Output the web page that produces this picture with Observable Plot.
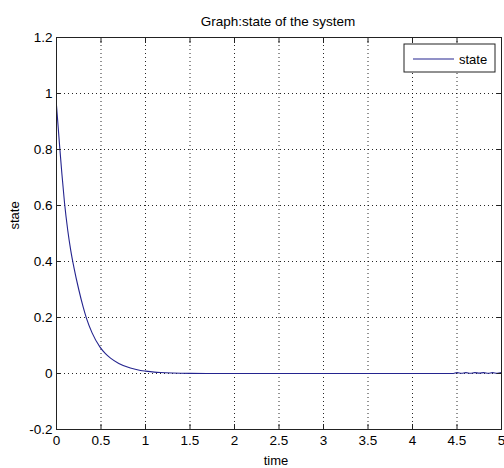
<!DOCTYPE html>
<html>
<head>
<meta charset="utf-8">
<script src="https://cdn.jsdelivr.net/npm/d3@7"></script>
<script src="https://cdn.jsdelivr.net/npm/@observablehq/plot@0.6"></script>
<style>
  html, body { margin: 0; padding: 0; background: #fff; }
</style>
</head>
<body>
<div id="chart"></div>
<script>
// ---- data ----
const time  = [0, 0.02, 0.037, 0.06, 0.09, 0.127, 0.16, 0.195, 0.25, 0.3, 0.337, 0.4, 0.487, 0.55, 0.607, 0.7, 0.83, 0.944, 1.0, 1.1, 1.17, 1.3, 1.5, 2, 3, 4, 4.46, 4.5, 4.55, 4.6, 4.65, 4.7, 4.75, 4.8, 4.85, 4.9, 4.95, 5];
const state = [0.957, 0.875, 0.805, 0.715, 0.61, 0.51, 0.44, 0.38, 0.3, 0.237, 0.197, 0.145, 0.095, 0.071, 0.055, 0.036, 0.0195, 0.011, 0.0085, 0.005, 0.0035, 0.0018, 0.0006, 0, 0, 0, 0, 0.003, 0.001, 0.003, 0.001, 0.003, 0.0015, 0.003, 0.001, 0.003, 0.001, 0.003];
const xTicks = [0, 0.5, 1, 1.5, 2, 2.5, 3, 3.5, 4, 4.5, 5];
const yTicks = [-0.2, 0, 0.2, 0.4, 0.6, 0.8, 1, 1.2];
const titleText = "Graph:state of the system";
const xLabel = "time";
const yLabel = "state";
const seriesName = "state";

const rows = time.map((t, i) => ({time: t, state: state[i]}));

const W = 504, H = 468;
const mL = 56, mR = 3, mT = 37, mB = 39;
const lineColor = "#24248f";
const font = "'Liberation Sans', Arial, Helvetica, sans-serif";
const fmt = d => String(d);
const grid = {stroke: "#000", strokeOpacity: 0.85, strokeDasharray: "1,3", strokeWidth: 1};

const plot = Plot.plot({
  width: W, height: H,
  marginLeft: mL, marginRight: mR, marginTop: mT, marginBottom: mB,
  style: {fontFamily: font, fontSize: "13.5px", background: "#fff", color: "#000"},
  x: {domain: [0, 5]},
  y: {domain: [-0.2, 1.2]},
  marks: [
    Plot.gridX(xTicks.slice(1, -1), grid),
    Plot.gridY(yTicks.slice(1, -1), grid),
    Plot.line(rows, {x: "time", y: "state", stroke: lineColor, strokeWidth: 1.1, curve: "monotone-x"}),
    // inward ticks on all four sides
    Plot.axisX(xTicks, {anchor: "bottom", tickSize: -5, tickFormat: () => "", label: null, stroke: "#222"}),
    Plot.axisX(xTicks, {anchor: "top", tickSize: -5, tickFormat: () => "", label: null, stroke: "#222"}),
    Plot.axisY(yTicks, {anchor: "left", tickSize: -5, tickFormat: () => "", label: null, stroke: "#222"}),
    Plot.axisY(yTicks, {anchor: "right", tickSize: -5, tickFormat: () => "", label: null, stroke: "#222"}),
    // tick labels
    Plot.axisX(xTicks, {anchor: "bottom", tickSize: 0, tickPadding: 6, tickFormat: fmt, label: null, fontSize: 13.5}),
    Plot.axisY(yTicks, {anchor: "left", tickSize: 0, tickPadding: 4, tickFormat: fmt, label: null, fontSize: 13.5}),
    Plot.frame({stroke: "#222", strokeWidth: 1}),
    // title & axis labels
    Plot.text([titleText], {frameAnchor: "top", text: d => d, lineAnchor: "middle", dy: -16, dx: -1, fontSize: 13.5}),
    Plot.text([xLabel], {frameAnchor: "bottom", text: d => d, lineAnchor: "top", dy: 26, dx: -3, fontSize: 13}),
    Plot.text([yLabel], {frameAnchor: "left", text: d => d, rotate: -90, lineAnchor: "middle", dx: -42, dy: -4, fontSize: 13})
  ]
});

// legend box, swatch line and label, placed relative to the frame
const svg = d3.select(plot);
const frameRight = W - mR, frameTop = mT;
const legend = svg.append("g").attr("class", "legend")
  .attr("font-family", font).attr("font-size", 13).attr("text-anchor", "start");
legend.append("rect")
  .attr("x", frameRight - 97).attr("y", frameTop + 7).attr("width", 91).attr("height", 28)
  .attr("fill", "#fff").attr("stroke", "#222").attr("stroke-width", 1);
legend.append("line")
  .attr("x1", frameRight - 88).attr("x2", frameRight - 47).attr("y1", frameTop + 22).attr("y2", frameTop + 22)
  .attr("stroke", lineColor).attr("stroke-width", 1.1);
legend.append("text")
  .attr("x", frameRight - 42).attr("y", frameTop + 22).attr("dy", "0.35em")
  .attr("text-anchor", "start")
  .attr("fill", "#000").text(seriesName);

document.getElementById("chart").appendChild(plot);
</script>
</body>
</html>
